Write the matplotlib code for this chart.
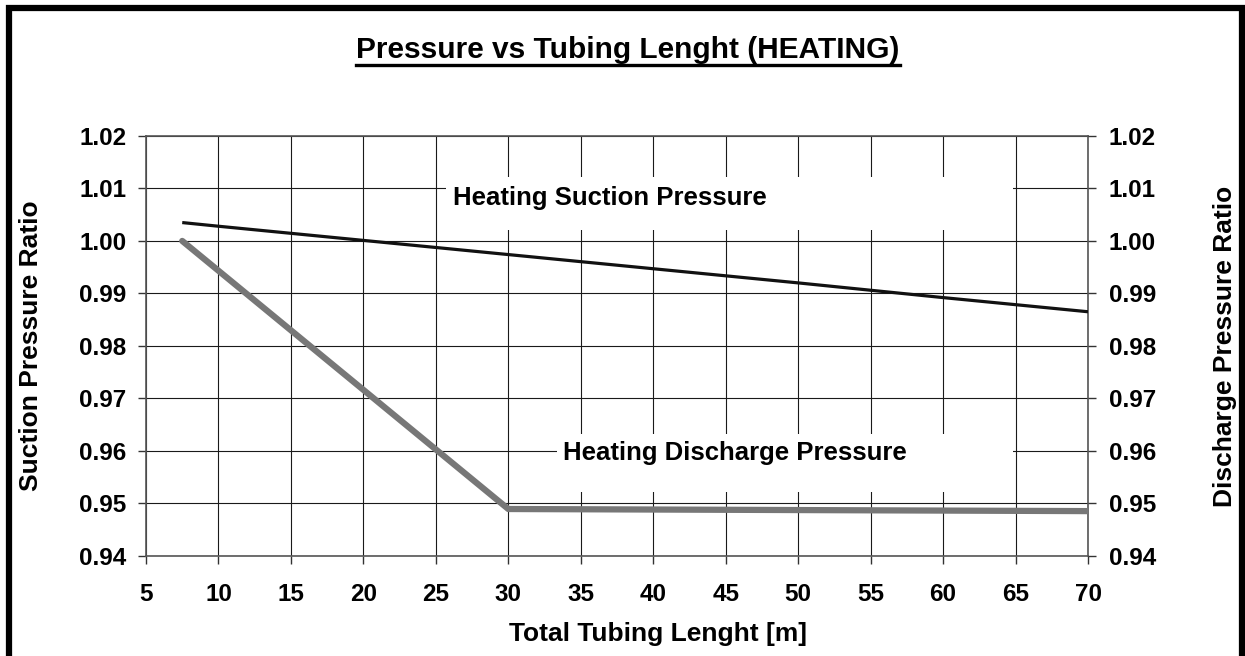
import matplotlib
matplotlib.use("Agg")
import matplotlib.pyplot as plt
from matplotlib.patches import Rectangle
from matplotlib.lines import Line2D

plt.rcParams['font.family'] = ['Liberation Sans', 'DejaVu Sans']
plt.rcParams['font.weight'] = 'bold'

# tubing length [m] and pressure ratios
suction_len = [7.5, 10, 20, 30, 40, 50, 60, 70]
suction_ratio = [1.0035, 1.0028, 1.0001, 0.9974, 0.9947, 0.9920, 0.9892, 0.9865]
discharge_len = [7.5, 30, 70]
discharge_ratio = [1.000, 0.9489, 0.9485]

x_ticks = list(range(5, 71, 5))
y_ticks = [0.94, 0.95, 0.96, 0.97, 0.98, 0.99, 1.00, 1.01, 1.02]
y_ticklabels = ['%.2f' % v for v in y_ticks]

W, H = 1245, 656
fig = plt.figure(figsize=(W / 100, H / 100), dpi=100)

# outer chart frame
fig.patches.append(Rectangle((8.5 / W, -0.05), (1242 - 8.5) / W, 1.05 - 7.5 / H,
                             transform=fig.transFigure, fill=False,
                             edgecolor='black', linewidth=4.5))

ax = fig.add_axes([146 / W, 1 - 555.7 / H, (1088 - 146) / W, (555.7 - 136) / H])
ax.set_xlim(5, 70)
ax.set_ylim(0.94, 1.02)
ax.set_xticks(x_ticks)
ax.set_yticks(y_ticks)
ax.set_yticklabels(y_ticklabels)
ax.grid(True, color='#1a1a1a', linewidth=0.8)
ax.set_axisbelow(True)
ax.tick_params(axis='both', labelsize=17.5, length=6, width=1, color='#333333')
ax.tick_params(axis='x', pad=14)
ax.tick_params(axis='y', pad=8)
for sp in ax.spines.values():
    sp.set_color('#555555')
    sp.set_linewidth(1.2)

ax2 = ax.twinx()
ax2.set_ylim(0.94, 1.02)
ax2.set_yticks(y_ticks)
ax2.set_yticklabels(y_ticklabels)
ax2.tick_params(axis='y', labelsize=17.5, length=6, width=1, color='#333333', pad=9)
for sp in ax2.spines.values():
    sp.set_visible(False)

# white boxes behind the series labels
ax.add_patch(Rectangle((25.7, 1.0021), 64.83 - 25.7, 1.0122 - 1.0021,
                       facecolor='white', edgecolor='none', zorder=1.5))
ax.add_patch(Rectangle((33.37, 0.9521), 64.83 - 33.37, 0.9632 - 0.9521,
                       facecolor='white', edgecolor='none', zorder=1.5))

ax.plot(suction_len, suction_ratio, color='#111111', linewidth=2.3, zorder=3,
        solid_capstyle='butt')
ax.plot(discharge_len, discharge_ratio, color='#777777', linewidth=4.5, zorder=3,
        solid_capstyle='round')

ax.text(26.2, 1.0081, 'Heating Suction Pressure', fontsize=18.5, fontweight='bold',
        va='center', ha='left', zorder=4)
ax.text(33.8, 0.9595, 'Heating Discharge Pressure', fontsize=18.5, fontweight='bold',
        va='center', ha='left', zorder=4)

title = fig.text(628 / W, 1 - 50 / H, 'Pressure vs Tubing Lenght (HEATING)',
                 fontsize=21.5, fontweight='bold', ha='center', va='center')
fig.text(658 / W, 1 - 634 / H, 'Total Tubing Lenght [m]', fontsize=19,
         fontweight='bold', ha='center', va='center')
fig.text(31 / W, 1 - 346 / H, 'Suction Pressure Ratio', fontsize=19,
         fontweight='bold', ha='center', va='center', rotation=90)
fig.text(1225 / W, 1 - 346 / H, 'Discharge Pressure Ratio', fontsize=19,
         fontweight='bold', ha='center', va='center', rotation=90)

# underline the title
fig.canvas.draw()
bb = title.get_window_extent(fig.canvas.get_renderer())
uy = (H - 65) / H
fig.add_artist(Line2D([bb.x0 / W, bb.x1 / W], [uy, uy], color='black',
                      linewidth=2.4, transform=fig.transFigure))

fig.savefig('out.png', dpi=100)
